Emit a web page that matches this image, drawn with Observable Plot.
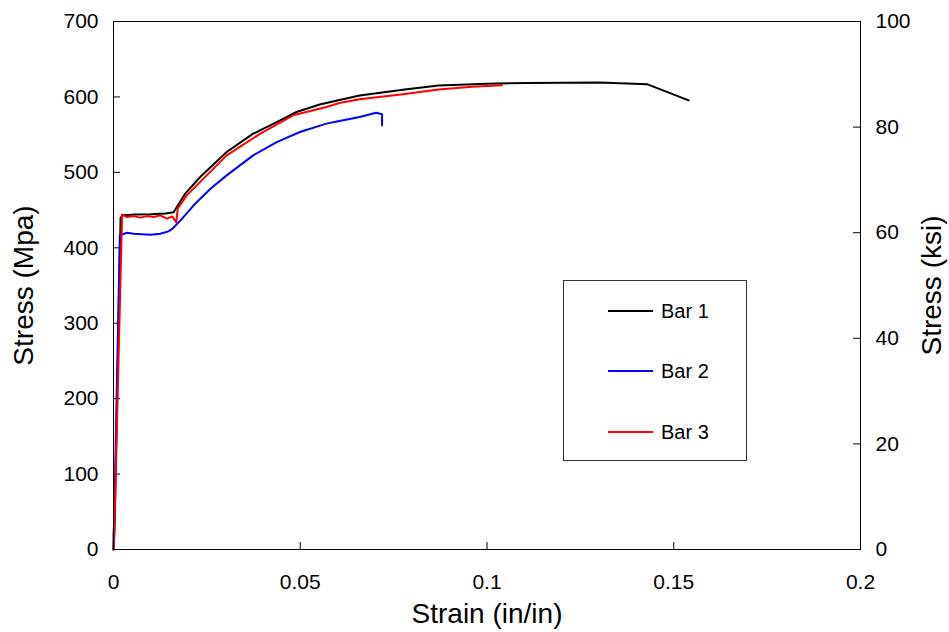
<!DOCTYPE html>
<html>
<head>
<meta charset="utf-8">
<script src="https://cdn.jsdelivr.net/npm/d3@7"></script>
<script src="https://cdn.jsdelivr.net/npm/@observablehq/plot@0.6"></script>
<style>
  html, body { margin: 0; padding: 0; background: #fff; }
  #wrap { position: relative; width: 949px; height: 632px; font-family: "Liberation Sans", Arial, sans-serif; }
  #legend { position: absolute; left: 563px; top: 280px; width: 184px; height: 181px; border: 1px solid #333; background: #fff; box-sizing: border-box; }
  .item { position: absolute; left: 44px; height: 24px; display: flex; align-items: center; }
  .item span.line { display: inline-block; width: 45px; height: 2px; margin-right: 8px; }
  .item span.lab { font-size: 20px; color: #000; }
</style>
</head>
<body>
<div id="wrap"></div>
<script>
// Strain (in/in) vs Stress (MPa)
const bar1Strain = [0, 0.0003, 0.0019, 0.0025, 0.006, 0.010, 0.014, 0.0161, 0.0192, 0.0232, 0.0303, 0.0374, 0.0437, 0.049, 0.0552, 0.0605, 0.0659, 0.078, 0.087, 0.100, 0.111, 0.130, 0.143, 0.154];
const bar1Stress = [0, 30, 440, 443, 444, 444.5, 445.5, 447, 471.8, 493.8, 527, 551.3, 566.7, 580, 590, 596, 602, 610, 615, 617.5, 618.5, 619, 616.7, 595.5];

const bar2Strain = [0, 0, 0.0002, 0.0017, 0.0036, 0.0054, 0.0099, 0.0125, 0.0147, 0.0157, 0.0179, 0.0214, 0.0259, 0.0303, 0.0374, 0.0437, 0.0499, 0.057, 0.0605, 0.0659, 0.0703, 0.0719, 0.0719];
const bar2Stress = [0, 20, 40, 416.5, 420, 418.7, 417.4, 418.7, 421.8, 425, 436, 456, 478, 496, 522.5, 540, 553.5, 564.6, 568, 573.4, 579, 577, 562];

const bar3Strain = [0, 0.0002, 0.0023, 0.0036, 0.0054, 0.0072, 0.009, 0.0107, 0.0125, 0.0143, 0.0157, 0.0165, 0.0168, 0.0172, 0.0196, 0.0303, 0.0392, 0.0481, 0.057, 0.0605, 0.0659, 0.078, 0.087, 0.096, 0.104];
const bar3Stress = [0, 21, 444, 440.7, 442, 440, 442, 440.7, 443, 438.6, 441.6, 436, 434, 452, 469.5, 522.5, 551, 575.6, 586.6, 592, 597, 604, 610, 613.5, 615.5];

const seriesNames = ["Bar 1", "Bar 2", "Bar 3"];
const seriesColors = ["#000000", "#0000ff", "#ff0000"];

const xTicks = [0, 0.05, 0.1, 0.15, 0.2];
const yTicksMpa = [0, 100, 200, 300, 400, 500, 600, 700];
const yTicksKsi = [0, 20, 40, 60, 80, 100];

const xLabel = "Strain (in/in)";
const yLabelLeft = "Stress (Mpa)";
const yLabelRight = "Stress (ksi)";

const toRows = (name, xs, ys) => xs.map((x, i) => ({series: name, strain: x, stress: ys[i]}));
const rows = [
  ...toRows(seriesNames[0], bar1Strain, bar1Stress),
  ...toRows(seriesNames[1], bar2Strain, bar2Stress),
  ...toRows(seriesNames[2], bar3Strain, bar3Stress)
];

const ksiToAxis = k => k * 7; // right axis spans same frame (0–100 ↔ 0–700)

const W = 949, H = 632;
const mL = 113, mR = 89, mT = 21, mB = 83;
const frameW = W - mL - mR, frameH = H - mT - mB;

const chart = Plot.plot({
  width: W,
  height: H,
  marginLeft: mL,
  marginRight: mR,
  marginTop: mT,
  marginBottom: mB,
  style: {fontFamily: "Liberation Sans, Arial, sans-serif", background: "#fff", color: "#000"},
  x: {domain: [0, 0.2]},
  y: {domain: [0, 700]},
  color: {domain: seriesNames, range: seriesColors},
  marks: [
    Plot.axisX(xTicks, {tickSize: 0, tickPadding: 25, fontSize: 21, label: null, tickFormat: d => String(d)}),
    Plot.axisY(yTicksMpa, {anchor: "left", tickSize: 0, tickPadding: 15, fontSize: 21, label: null}),
    Plot.axisY(yTicksKsi.map(ksiToAxis), {anchor: "right", tickSize: 0, tickPadding: 15, fontSize: 21, label: null, tickFormat: d => String(d / 7)}),
    Plot.tickX(xTicks.slice(1, -1), {x: d => d, insetTop: frameH - 7, stroke: "#000"}),
    Plot.tickY(yTicksMpa.slice(1, -1), {y: d => d, insetRight: frameW - 7, stroke: "#000"}),
    Plot.tickY(yTicksKsi.slice(1, -1).map(ksiToAxis), {y: d => d, insetLeft: frameW - 7, stroke: "#000"}),
    Plot.line(rows, {x: "strain", y: "stress", z: "series", stroke: "series", strokeWidth: 2, curve: "linear"}),
    Plot.frame({stroke: "#000", strokeWidth: 1}),
    Plot.text([xLabel], {frameAnchor: "bottom", dy: 65, lineAnchor: "middle", textAnchor: "middle", fontSize: 28, text: d => d}),
    Plot.text([yLabelLeft], {frameAnchor: "left", dx: -89, rotate: -90, textAnchor: "middle", lineAnchor: "middle", fontSize: 28, text: d => d}),
    Plot.text([yLabelRight], {frameAnchor: "right", dx: 72, rotate: -90, textAnchor: "middle", lineAnchor: "middle", fontSize: 28, text: d => d})
  ]
});

const wrap = document.getElementById("wrap");
chart.style.position = "absolute";
chart.style.left = "0";
chart.style.top = "0";
wrap.appendChild(chart);

const legend = document.createElement("div");
legend.id = "legend";
const legendTops = [18, 78, 139];
seriesNames.forEach((name, i) => {
  const item = document.createElement("div");
  item.className = "item";
  item.style.top = legendTops[i] + "px";
  const ln = document.createElement("span");
  ln.className = "line";
  ln.style.background = seriesColors[i];
  const lab = document.createElement("span");
  lab.className = "lab";
  lab.textContent = name;
  item.appendChild(ln);
  item.appendChild(lab);
  legend.appendChild(item);
});
wrap.appendChild(legend);
</script>
</body>
</html>
